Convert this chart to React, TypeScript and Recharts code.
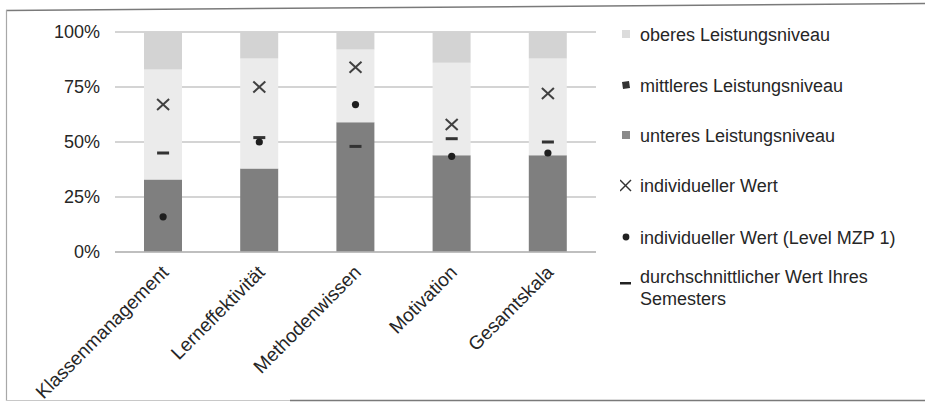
import React from 'react'
import { ComposedChart, Bar, Scatter, XAxis, YAxis, CartesianGrid } from 'recharts'

const categories = ['Klassenmanagement', 'Lerneffektivität', 'Methodenwissen', 'Motivation', 'Gesamtskala']
// upper bound of each level band, in percent
const lowerLevelTop = [33, 38, 59, 44, 44]
const middleLevelTop = [83, 88, 92, 86, 88]
const individualValue = [67, 75, 84, 58, 72]
const levelMzp1 = [16, 50, 67, 43.5, 45]
const semesterAverage = [45, 52, 48, 51.5, 50]
const yTicks = [0, 25, 50, 75, 100]

const data = categories.map((name, i) => ({
  name,
  lower: lowerLevelTop[i],
  middle: middleLevelTop[i] - lowerLevelTop[i],
  upper: 100 - middleLevelTop[i],
  individual: individualValue[i],
  mzp1: levelMzp1[i],
  average: semesterAverage[i],
}))

const FONT = '"Liberation Sans", Arial, sans-serif'
const TEXT = '#262626'
const LOWER = '#7f7f7f'
const MIDDLE = '#ebebeb'
const UPPER = '#d3d3d3'

const CrossShape = (props: any) => {
  const { cx, cy } = props
  if (cx == null || cy == null) return null
  return (
    <g stroke="#404040" strokeWidth={2}>
      <line x1={cx - 6} y1={cy - 5.5} x2={cx + 6} y2={cy + 5.5} />
      <line x1={cx - 6} y1={cy + 5.5} x2={cx + 6} y2={cy - 5.5} />
    </g>
  )
}

const DotShape = (props: any) => {
  const { cx, cy } = props
  if (cx == null || cy == null) return null
  return <circle cx={cx} cy={cy} r={3.6} fill="#1e1e1e" />
}

const DashShape = (props: any) => {
  const { cx, cy } = props
  if (cx == null || cy == null) return null
  return <rect x={cx - 6} y={cy - 1.5} width={12} height={3} fill="#333" />
}

const CategoryTick = (props: any) => {
  const { x, y, payload } = props
  const ax = x - 3
  const ay = y + 4
  return (
    <text
      x={ax}
      y={ay}
      transform={`rotate(-45 ${ax} ${ay})`}
      textAnchor="end"
      dominantBaseline="hanging"
      fontSize={19}
      fontFamily={FONT}
      fill={TEXT}
    >
      {payload.value}
    </text>
  )
}

const legendItems = [
  { label: 'oberes Leistungsniveau', icon: <rect x={2} y={4} width={8} height={8} fill="#dcdcdc" />, height: 51 },
  { label: 'mittleres Leistungsniveau', icon: <path d="M2 5 L9 4 L10 11 L3 12 Z" fill="#333" />, height: 50 },
  { label: 'unteres Leistungsniveau', icon: <rect x={2} y={4} width={8} height={8} fill="#8a8a8a" />, height: 50 },
  {
    label: 'individueller Wert',
    icon: (
      <g stroke="#333" strokeWidth={1.5}>
        <line x1={0} y1={3} x2={11} y2={14} />
        <line x1={0} y1={14} x2={11} y2={3} />
      </g>
    ),
    height: 52,
  },
  { label: 'individueller Wert (Level MZP 1)', icon: <circle cx={6} cy={8} r={3.4} fill="#222" />, height: 39 },
  {
    label: 'durchschnittlicher Wert Ihres Semesters',
    icon: <rect x={0} y={14} width={11} height={2.5} fill="#222" />,
    height: 50,
  },
]

function ChartLegend() {
  return (
    <div style={{ position: 'absolute', left: 620, top: 26, width: 300, fontFamily: FONT, fontSize: 18, color: TEXT }}>
      {legendItems.map((item) => (
        <div key={item.label} style={{ display: 'flex', alignItems: 'flex-start', height: item.height }}>
          <svg width={16} height={18} style={{ flex: 'none', marginRight: 4 }}>
            {item.icon}
          </svg>
          <span style={{ lineHeight: '22px', marginTop: -2, width: 280 }}>{item.label}</span>
        </div>
      ))}
    </div>
  )
}

export default function App() {
  return (
    <div style={{ position: 'absolute', left: 0, top: 0, width: 925, height: 405, background: '#fff' }}>
      <ComposedChart
        width={600}
        height={402}
        data={data}
        margin={{ top: 32, right: 4, bottom: 0, left: 0 }}
        barCategoryGap="60%"
      >
        <CartesianGrid vertical={false} stroke="#c6c6c6" strokeWidth={1.5} />
        <XAxis
          dataKey="name"
          axisLine={{ stroke: '#b8b8b8', strokeWidth: 1.5 }}
          tickLine={false}
          height={150}
          interval={0}
          tick={<CategoryTick />}
        />
        <YAxis
          domain={[0, 100]}
          ticks={yTicks}
          width={115}
          axisLine={false}
          tickLine={false}
          tickMargin={9}
          tickFormatter={(v) => `${v}%`}
          tick={{ fontSize: 18, fontFamily: FONT, fill: TEXT }}
        />
        <Bar dataKey="lower" stackId="level" fill={LOWER} barSize={38} isAnimationActive={false} />
        <Bar dataKey="middle" stackId="level" fill={MIDDLE} barSize={38} isAnimationActive={false} />
        <Bar dataKey="upper" stackId="level" fill={UPPER} barSize={38} isAnimationActive={false} />
        <Scatter dataKey="individual" shape={<CrossShape />} isAnimationActive={false} />
        <Scatter dataKey="average" shape={<DashShape />} isAnimationActive={false} />
        <Scatter dataKey="mzp1" shape={<DotShape />} isAnimationActive={false} />
      </ComposedChart>
      <ChartLegend />
      {/* frame around the figure */}
      <svg width={925} height={405} style={{ position: 'absolute', left: 0, top: 0, pointerEvents: 'none' }}>
        <line x1={6} y1={10.5} x2={925} y2={3.5} stroke="#7a7a7a" strokeWidth={1.5} />
        <line x1={6.5} y1={10} x2={6.5} y2={401} stroke="#a8a8a8" strokeWidth={1.2} />
        <line x1={6} y1={400.5} x2={290} y2={400.5} stroke="#c8c8c8" strokeWidth={1.2} />
        <line x1={290} y1={400.5} x2={925} y2={400.5} stroke="#7a7a7a" strokeWidth={1.5} />
      </svg>
    </div>
  )
}
